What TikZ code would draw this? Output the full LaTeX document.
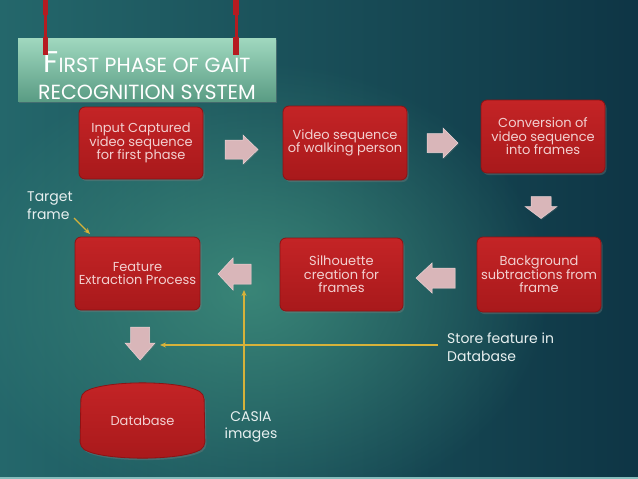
\documentclass[tikz,border=0pt]{standalone}
\usepackage{fontspec}
\setmainfont{Poppins}
\usetikzlibrary{arrows.meta,fadings,shadows}
\definecolor{bgL}{HTML}{24676B}
\definecolor{bgR}{HTML}{0E3545}
\definecolor{glow}{HTML}{3F8E7C}
\definecolor{boxT}{HTML}{C42426}
\definecolor{boxB}{HTML}{A8191B}
\definecolor{boxD}{HTML}{8E1214}
\definecolor{boxtxt}{HTML}{F2D0D0}
\definecolor{arrpink}{HTML}{D9B6B9}
\definecolor{arredge}{HTML}{EAD3D5}
\definecolor{ylw}{HTML}{D6B23A}
\definecolor{lbl}{HTML}{E8F0F0}
\definecolor{ttlT}{HTML}{A0D8BF}
\definecolor{ttlB}{HTML}{5A9C84}
\definecolor{hang}{HTML}{B51B20}
\definecolor{strip}{HTML}{86BDBC}
\tikzfading[name=glowfade, inner color=transparent!0, outer color=transparent!100]
\tikzset{
  stepbox/.style={rounded corners=6pt, draw=boxD, line width=0.8pt,
    top color=boxT, bottom color=boxB, text=boxtxt,
    font=\fontsize{13}{13.5}\selectfont, align=center, inner sep=0pt,
    drop shadow={shadow xshift=1.5pt, shadow yshift=-2pt, opacity=0.35}},
  arrowfill/.style={fill=arrpink, draw=arredge, line width=0.5pt, line join=miter,
    drop shadow={shadow xshift=0.8pt, shadow yshift=-1.2pt, opacity=0.3}},
  pics/blkarrow/.style n args={4}{code={
    \path[arrowfill] (-#1/2,-#3/2) -- (#1/2-#4,-#3/2) -- (#1/2-#4,-#2/2) -- (#1/2,0)
      -- (#1/2-#4,#2/2) -- (#1/2-#4,#3/2) -- (-#1/2,#3/2) -- cycle;
  }},
  lbltext/.style={text=lbl, font=\fontsize{14}{17.5}\selectfont, inner sep=1pt},
  yarrow/.style={draw=ylw, line width=1.2pt, -{Stealth[length=6pt,width=5pt]}},
  hanger/.style={fill=hang}
}
\begin{document}
\begin{tikzpicture}[x=1pt,y=-1pt]
\useasboundingbox (0,0) rectangle (638,479);
% background
\shade[left color=bgL, right color=bgR] (0,0) rectangle (638,479);
\fill[glow, path fading=glowfade, opacity=0.85] (250,290) ellipse (300 and 230);
\fill[strip] (0,476.5) rectangle (638,479);

% title
\node[minimum width=258pt, minimum height=63pt, inner sep=0pt,
  top color=ttlT, bottom color=ttlB,
  drop shadow={shadow xshift=1pt, shadow yshift=-2pt, opacity=0.35}] (title) at (147,69.5) {};
\node[text=white, align=center, inner sep=0pt, font=\fontsize{20.5}{27}\selectfont] (titletext) at (147,76)
  {{\fontsize{30}{27}\selectfont F}IRST PHASE OF GAIT\\RECOGNITION SYSTEM};
% hangers
\foreach \hx in {45.5,236}{
  \fill[hanger] (\hx-2.7,0) rectangle (\hx+2.7,15);
  \fill[hanger] (\hx-1.5,15) rectangle (\hx+1.5,37);
  \fill[hanger] (\hx-2.9,37) rectangle (\hx+2.9,55);
}

% process boxes
\node[stepbox, minimum width=124pt, minimum height=72pt] (b1) at (141,143) {Input Captured\\video sequence\\for first phase};
\node[stepbox, minimum width=124pt, minimum height=74pt] (b2) at (345,143) {Video sequence\\of walking person};
\node[stepbox, minimum width=124pt, minimum height=73pt] (b3) at (543,136.5) {Conversion of\\video sequence\\into frames};
\node[stepbox, minimum width=124pt, minimum height=75pt] (b4) at (539,274.5) {Background\\subtractions from\\frame};
\node[stepbox, minimum width=123pt, minimum height=73pt] (b5) at (341.5,274.5) {Silhouette\\creation for\\frames};
\node[stepbox, minimum width=125pt, minimum height=73pt] (b6) at (137.5,273.5) {Feature\\Extraction Process};

% database
\path[rounded corners=5pt, draw=boxD, line width=0.8pt, top color=boxT, bottom color=boxB,
  drop shadow={shadow xshift=1.5pt, shadow yshift=-2pt, opacity=0.35}]
  (81,394) .. controls (105,380) and (180,380) .. (204,394)
  -- (205,447) .. controls (182,461) and (103,461) .. (80,447) -- cycle;
\node[text=boxtxt, font=\fontsize{13}{13.5}\selectfont] (db) at (142.5,421) {Database};

% block arrows
\pic (a1) at (241.5,149.5) {blkarrow={33}{29}{19}{15}};
\pic (a2) at (442.5,143) {blkarrow={31}{30}{19}{15}};
\pic[rotate=270] (a3) at (541,207.5) {blkarrow={22}{32}{20}{12}};
\pic[rotate=180] (a4) at (435.5,278) {blkarrow={39}{30}{20}{16}};
\pic[rotate=180] (a5) at (234.5,274) {blkarrow={33}{32}{20}{15}};
\pic[rotate=270] (a6) at (140,343.5) {blkarrow={33}{30}{19}{17}};

% labels
\node[lbltext, align=left, anchor=north west] (tgt) at (26,191) {Target\\frame};
\node[lbltext, align=left, anchor=west] (store) at (446,347) {Store feature in\\Database};
\node[lbltext, align=center] (casia) at (251,427) {CASIA\\images};

% yellow connectors
\coordinate (tgtTip) at (90,234);
\coordinate (storeTip) at (160,345);
\coordinate (casiaTip) at (244,290);
\draw[yarrow] (74,218) -- (tgtTip);
\draw[yarrow] (store.west |- storeTip) ++(-8,0) -- (storeTip);
\draw[yarrow] (casiaTip |- casia.north) -- (casiaTip);
\end{tikzpicture}
\end{document}
